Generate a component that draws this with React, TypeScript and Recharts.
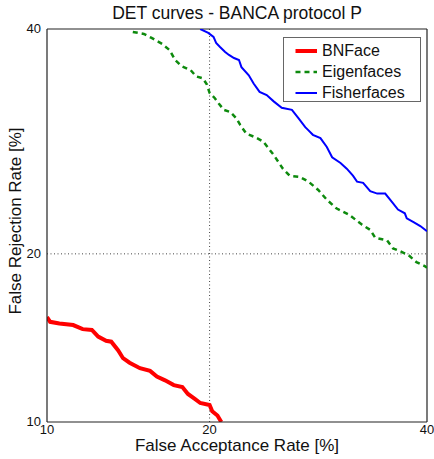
import React from 'react';
import { LineChart, Line, XAxis, YAxis, ReferenceLine, Legend } from 'recharts';

// DET points, in percent
const bnfaceFar = [10.0, 10.15, 10.6, 11.3, 11.8, 12.3, 12.65, 13.1, 13.4, 13.8, 14.1, 14.5, 15.15, 15.8, 16.25, 16.8, 17.4, 18.0, 18.4, 18.9, 19.3, 20.0, 20.2, 20.6, 20.9];
const bnfaceFrr = [15.7, 15.4, 15.3, 15.2, 14.95, 14.9, 14.5, 14.25, 14.2, 13.7, 13.25, 13.0, 12.7, 12.55, 12.25, 12.05, 11.8, 11.7, 11.35, 11.1, 10.9, 10.8, 10.5, 10.3, 10.0];

const eigenFar = [14.7, 15.4, 15.9, 16.6, 17.1, 17.5, 17.95, 18.6, 19.0, 19.5, 19.8, 20.0, 20.4, 20.7, 21.1, 21.6, 22.1, 22.4, 22.9, 23.6, 24.3, 25.2, 26.0, 26.6, 27.5, 28.3, 29.2, 30.0, 30.9, 32.1, 33.4, 34.2, 34.7, 35.9, 36.5, 37.2, 38.1, 38.9, 39.8, 40.0];
const eigenFrr = [39.7, 39.5, 39.1, 38.5, 37.9, 36.9, 36.3, 35.9, 35.3, 35.1, 34.5, 33.7, 33.2, 32.7, 32.1, 31.9, 31.3, 30.7, 29.9, 29.6, 29.2, 28.0, 26.8, 26.2, 26.1, 25.7, 25.0, 24.2, 23.5, 23.0, 22.2, 21.8, 21.2, 21.0, 20.4, 20.2, 19.9, 19.4, 19.1, 19.0];

const fisherFar = [19.3, 19.9, 20.3, 20.5, 20.8, 21.2, 21.5, 21.9, 22.3, 22.5, 23.1, 23.5, 24.0, 24.6, 25.2, 25.9, 26.8, 27.4, 28.0, 28.3, 28.7, 29.4, 30.0, 30.5, 31.3, 31.9, 32.5, 32.9, 33.5, 34.2, 34.9, 35.7, 36.4, 37.0, 37.7, 37.9, 38.6, 39.3, 40.0];
const fisherFrr = [40.0, 39.6, 39.2, 38.6, 38.2, 37.7, 37.4, 37.1, 36.9, 36.2, 35.4, 34.6, 33.8, 33.5, 32.9, 32.3, 32.1, 31.3, 30.5, 30.2, 29.8, 29.5, 28.7, 27.8, 27.3, 26.8, 26.2, 25.7, 25.6, 24.9, 24.7, 24.7, 24.0, 23.4, 23.1, 22.7, 22.4, 22.1, 21.7];

const tickPercents = [10, 20, 40];
const gridPercent = 20;

const FONT = '"Liberation Sans", Arial, Helvetica, sans-serif';

// inverse normal CDF (Acklam), DET axes are on a probit scale
const probit = (p: number) => {
  const a = [-39.69683028665376, 220.9460984245205, -275.9285104469687, 138.357751867269, -30.66479806614716, 2.506628277459239];
  const b = [-54.47609879822406, 161.5858368580409, -155.6989798598866, 66.80131188771972, -13.28068155288572];
  const c = [-0.007784894002430293, -0.3223964580411365, -2.400758277161838, -2.549732539343734, 4.374664141464968, 2.938163982698783];
  const d = [0.007784695709041462, 0.3224671290700398, 2.445134137142996, 3.754408661907416];
  const pl = 0.02425;
  if (p < pl) {
    const q = Math.sqrt(-2 * Math.log(p));
    return (((((c[0] * q + c[1]) * q + c[2]) * q + c[3]) * q + c[4]) * q + c[5]) / ((((d[0] * q + d[1]) * q + d[2]) * q + d[3]) * q + 1);
  }
  if (p > 1 - pl) {
    const q = Math.sqrt(-2 * Math.log(1 - p));
    return -(((((c[0] * q + c[1]) * q + c[2]) * q + c[3]) * q + c[4]) * q + c[5]) / ((((d[0] * q + d[1]) * q + d[2]) * q + d[3]) * q + 1);
  }
  const q = p - 0.5;
  const r = q * q;
  return ((((((a[0] * r + a[1]) * r + a[2]) * r + a[3]) * r + a[4]) * r + a[5]) * q) / (((((b[0] * r + b[1]) * r + b[2]) * r + b[3]) * r + b[4]) * r + 1);
};

const toPoints = (far: number[], frr: number[]) =>
  far.map((v, i) => ({ far: probit(v / 100), frr: probit(frr[i] / 100) }));

const series = [
  { name: 'BNFace', data: toPoints(bnfaceFar, bnfaceFrr), color: '#ff0000', width: 4, dash: undefined as string | undefined },
  { name: 'Eigenfaces', data: toPoints(eigenFar, eigenFrr), color: '#0d8a0d', width: 2.5, dash: '5 4' },
  { name: 'Fisherfaces', data: toPoints(fisherFar, fisherFrr), color: '#0000ff', width: 2, dash: undefined },
];

const ticks = tickPercents.map((t) => probit(t / 100));
const lo = ticks[0];
const hi = ticks[ticks.length - 1];
const grid = probit(gridPercent / 100);

const labelFor = (v: number) => {
  let best = 0;
  ticks.forEach((t, i) => {
    if (Math.abs(t - v) < Math.abs(ticks[best] - v)) best = i;
  });
  return String(tickPercents[best]);
};

const XTick = ({ x, y, payload }: any) => (
  <text x={x} y={y + 12} textAnchor="middle" fontSize={13} fontFamily={FONT} fill="#111">
    {labelFor(payload.value)}
  </text>
);

const YTick = ({ x, y, payload }: any) => (
  <text x={x - 6} y={y + 4} textAnchor="end" fontSize={13} fontFamily={FONT} fill="#111">
    {labelFor(payload.value)}
  </text>
);

const LegendBox = () => (
  <div
    style={{
      width: 138,
      height: 65,
      border: '1.5px solid #666',
      background: '#fff',
      fontFamily: FONT,
      fontSize: 16,
      color: '#111',
      paddingTop: 2,
      boxSizing: 'border-box',
    }}
  >
    {series.map((s) => (
      <div key={s.name} style={{ display: 'flex', alignItems: 'center', height: 21 }}>
        <svg width={38} height={20} style={{ display: 'block' }}>
          <line x1={11.5} x2={33} y1={10} y2={10} stroke={s.color} strokeWidth={s.width} strokeDasharray={s.dash} />
        </svg>
        <span>{s.name}</span>
      </div>
    ))}
  </div>
);

export default function App() {
  return (
    <div style={{ position: 'absolute', left: 0, top: 0, width: 434, height: 459, background: '#fff' }}>
      <div style={{ position: 'absolute', left: 37, top: 4, width: 400, textAlign: 'center', fontFamily: FONT, fontSize: 17.5, lineHeight: '18px', color: '#111' }}>
        DET curves - BANCA protocol P
      </div>
      <LineChart width={434} height={459} margin={{ top: 29, right: 7, left: 0, bottom: 0 }}>
        <XAxis
          type="number"
          dataKey="far"
          domain={[lo, hi]}
          ticks={ticks}
          interval={0}
          allowDataOverflow
          height={37}
          tickSize={0}
          tickMargin={0}
          tickLine={false}
          tick={<XTick />}
          axisLine={{ stroke: '#222', strokeWidth: 1.2 }}
        />
        <YAxis
          type="number"
          dataKey="frr"
          domain={[lo, hi]}
          ticks={ticks}
          interval={0}
          allowDataOverflow
          width={47}
          tickSize={0}
          tickMargin={0}
          tickLine={false}
          tick={<YTick />}
          axisLine={{ stroke: '#222', strokeWidth: 1.2 }}
        />
        <ReferenceLine x={grid} stroke="#444" strokeDasharray="1 2.5" />
        <ReferenceLine y={grid} stroke="#444" strokeDasharray="1 2.5" />
        <ReferenceLine x={hi} stroke="#222" strokeWidth={1.2} />
        <ReferenceLine y={hi} stroke="#222" strokeWidth={1.2} />
        {series.map((s) => (
          <Line
            key={s.name}
            data={s.data}
            dataKey="frr"
            name={s.name}
            type="linear"
            stroke={s.color}
            strokeWidth={s.width}
            strokeDasharray={s.dash}
            dot={false}
            activeDot={false}
            isAnimationActive={false}
          />
        ))}
        <Legend
          layout="vertical"
          align="center"
          verticalAlign="middle"
          content={<LegendBox />}
          wrapperStyle={{ position: 'absolute', left: 283, top: 37, width: 138, height: 65 }}
        />
      </LineChart>
      <div style={{ position: 'absolute', left: 37, top: 436.5, width: 400, textAlign: 'center', fontFamily: FONT, fontSize: 17, lineHeight: '18px', color: '#111' }}>
        False Acceptance Rate [%]
      </div>
      <div
        style={{
          position: 'absolute',
          left: 15.5 - 150,
          top: 221 - 9,
          width: 300,
          height: 18,
          textAlign: 'center',
          fontFamily: FONT,
          fontSize: 17,
          lineHeight: '18px',
          color: '#111',
          transform: 'rotate(-90deg)',
          transformOrigin: 'center',
        }}
      >
        False Rejection Rate [%]
      </div>
    </div>
  );
}
